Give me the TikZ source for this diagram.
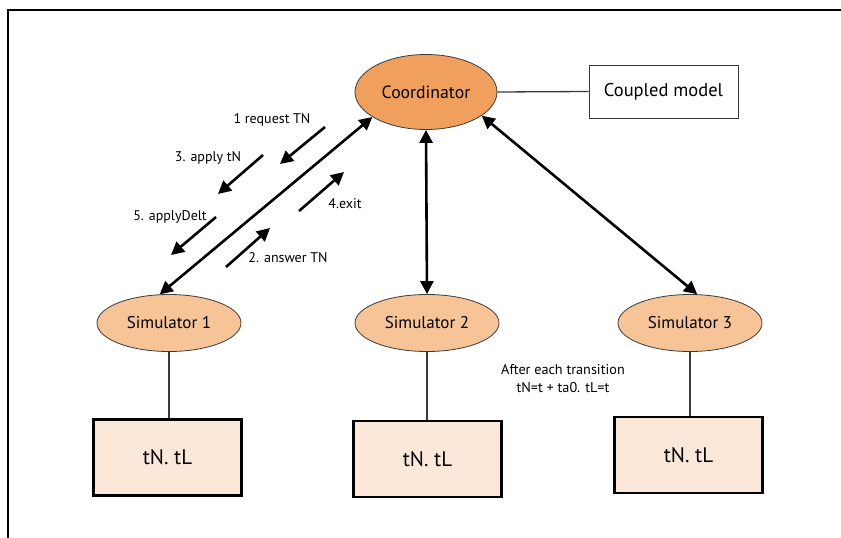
\documentclass[tikz,border=0pt]{standalone}
\usepackage{fontspec}
\setmainfont{PT Sans}
\usetikzlibrary{arrows.meta,shapes.geometric}
\definecolor{coordfill}{HTML}{F0A05C}
\definecolor{simfill}{HTML}{F6C496}
\definecolor{statefill}{HTML}{FCE8D8}
\definecolor{edgegray}{HTML}{3A3A3A}
\tikzset{
  coordnode/.style={ellipse,draw=edgegray,line width=0.8pt,fill=coordfill,
    minimum width=142pt,minimum height=75pt,inner sep=0pt,font=\fontsize{17.7}{20}\selectfont},
  simnode/.style={ellipse,draw=edgegray,line width=0.8pt,fill=simfill,
    minimum width=144pt,minimum height=57pt,inner sep=0pt,font=\fontsize{17}{19}\selectfont},
  statebox/.style={rectangle,draw=black,line width=2.2pt,fill=statefill,
    minimum width=148pt,minimum height=76pt,inner sep=0pt,font=\fontsize{21}{23}\selectfont},
  modelbox/.style={rectangle,draw=edgegray,line width=1pt,fill=white,
    minimum width=149pt,minimum height=53pt,inner sep=0pt,font=\fontsize{18.5}{20}\selectfont},
  link/.style={draw=edgegray,line width=1.3pt},
  bigarrow/.style={line width=2.6pt,{Triangle[length=13pt,width=13pt]}-{Triangle[length=13pt,width=13pt]}},
  msgarrow/.style={line width=2.6pt,-{Triangle[length=13pt,width=13pt]}},
  msglabel/.style={font=\fontsize{14}{16}\selectfont,inner sep=0pt},
}
\begin{document}
\begin{tikzpicture}[x=1pt,y=-1pt]
\useasboundingbox (0,0) rectangle (841,538);
% outer frame
\draw[line width=2pt] (8,540) -- (8,10) -- (843,10);

% nodes
\node[coordnode] (coord) at (426,92) {Coordinator};
\node[modelbox] (cm) at (663.5,91.5) {Coupled model};
\node[simnode] (sim1) at (169,323) {Simulator 1};
\node[simnode] (sim2) at (427,323) {Simulator 2};
\node[simnode] (sim3) at (690,323) {Simulator 3};
\node[statebox] (st1) at (167.5,457.5) {tN. tL};
\node[statebox] (st2) at (427.5,459) {tN. tL};
\node[statebox] (st3) at (688.5,455) {tN. tL};

% plain links
\draw[link] (coord.east) -- (cm.west);
\draw[link] (sim1.south) -- (sim1.south |- st1.north);
\draw[link] (sim2.south) -- (sim2.south |- st2.north);
\draw[link] (sim3.south) -- (sim3.south |- st3.north);

% coordinator <-> simulators
\draw[bigarrow] (coord.205) -- (sim1.108);
\draw[bigarrow] (coord.south) -- (sim2.north);
\draw[bigarrow] (coord.337) -- (sim3.76);

% message arrows
\coordinate (m1a) at (325,127); \coordinate (m1b) at (280,164);
\coordinate (m3a) at (263,155); \coordinate (m3b) at (218,194);
\coordinate (m5a) at (216,217); \coordinate (m5b) at (171,255);
\coordinate (m4a) at (299,211); \coordinate (m4b) at (344,172);
\coordinate (m2a) at (226,267); \coordinate (m2b) at (270,228);
\draw[msgarrow] (m1a) -- (m1b);
\draw[msgarrow] (m3a) -- (m3b);
\draw[msgarrow] (m5a) -- (m5b);
\draw[msgarrow] (m4a) -- (m4b);
\draw[msgarrow] (m2a) -- (m2b);

% message labels
\node[msglabel] (l1) at (272,120) {1 request TN};
\node[msglabel] (l3) at (208,158) {3. apply tN};
\node[msglabel] (l5) at (170,217) {5. applyDelt};
\node[msglabel] (l4) at (345,204) {4.exit};
\node[msglabel] (l2) at (288,258) {2. answer TN};

% note
\node[msglabel,align=center,font=\fontsize{14.2}{18}\selectfont] (note) at (563,379)
  {After each transition\\tN=t + ta0. tL=t};
\end{tikzpicture}
\end{document}
